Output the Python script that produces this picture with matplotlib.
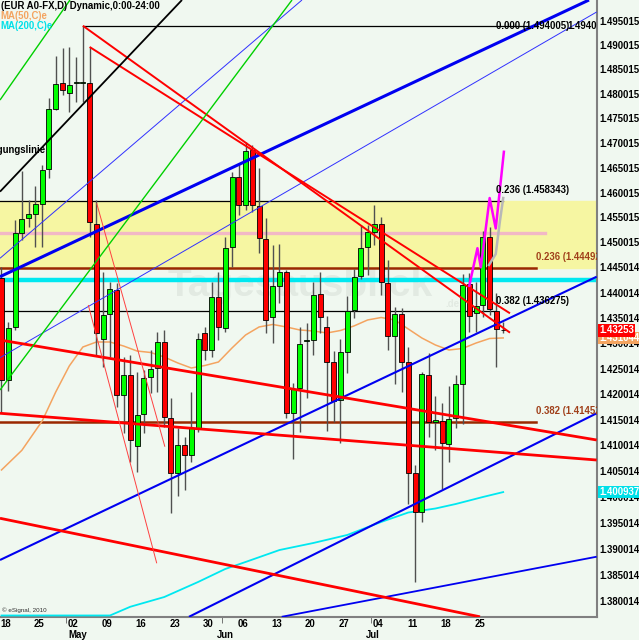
import numpy as np
import pandas as pd
import matplotlib
matplotlib.use('Agg')
import matplotlib.pyplot as plt
import matplotlib.transforms as mtrans
from matplotlib.ticker import FixedLocator, FixedFormatter, NullLocator

plt.rcParams['font.family'] = ['Liberation Sans', 'DejaVu Sans']
plt.rcParams['font.weight'] = 'bold'

# EUR/USD daily candles, 18 Apr - 29 Jul 2011 (last bar still open)
dates = pd.bdate_range('2011-04-18', periods=75)
opens = [1.44292, 1.42277, 1.43321, 1.45191, 1.45491, 1.45571, 1.45772, 1.46478, 1.47694, 1.48225,
         1.48020, 1.48215, 1.48215, 1.48225, 1.45371, 1.43083, 1.43577, 1.44053, 1.41982, 1.42375,
         1.40987, 1.41611, 1.42336, 1.42512, 1.43024, 1.41533, 1.40464, 1.41007, 1.40812, 1.41338,
         1.43202, 1.42866, 1.43914, 1.43301, 1.44910, 1.46316, 1.45752, 1.46861, 1.45732, 1.45070,
         1.43518, 1.44133, 1.44412, 1.41630, 1.42120, 1.43043, 1.43063, 1.43973, 1.43321, 1.42630,
         1.41884, 1.42827, 1.43656, 1.44332, 1.44910, 1.45211, 1.45371, 1.44193, 1.43143, 1.43577,
         1.42630, 1.40464, 1.39710, 1.42375, 1.41455, 1.41474, 1.41026, 1.41533, 1.42198, 1.44173,
         1.43597, 1.43755, 1.45110, 1.43637, 1.43261]
highs = [1.44511, 1.43419, 1.45451, 1.46437, 1.45852, 1.46134, 1.46558, 1.47918, 1.48778, 1.48942,
         1.48963, 1.48758, 1.49400, 1.48963, 1.45852, 1.44412, 1.44213, 1.44193, 1.42729, 1.42768,
         1.42434, 1.42473, 1.42866, 1.43222, 1.43261, 1.41923, 1.41338, 1.41163, 1.42041, 1.43202,
         1.43321, 1.44213, 1.44412, 1.45110, 1.46417, 1.46599, 1.47024, 1.46963, 1.46498, 1.45491,
         1.44950, 1.44970, 1.44452, 1.42218, 1.43321, 1.43399, 1.44213, 1.44412, 1.43538, 1.42846,
         1.43083, 1.43934, 1.44472, 1.45351, 1.45351, 1.45752, 1.45511, 1.44651, 1.43716, 1.43696,
         1.42925, 1.40619, 1.42434, 1.42807, 1.41963, 1.41826, 1.42159, 1.42375, 1.44372, 1.44392,
         1.44213, 1.45231, 1.45311, 1.43993, 1.43420]
lows = [1.41630, 1.42061, 1.43261, 1.45050, 1.45311, 1.44910, 1.44910, 1.46296, 1.47674, 1.47979,
        1.47633, 1.47836, 1.47836, 1.45110, 1.42768, 1.42532, 1.42729, 1.41748, 1.41241, 1.40677,
        1.40483, 1.41241, 1.42021, 1.42041, 1.41358, 1.39691, 1.40019, 1.40135, 1.40677, 1.41260,
        1.42670, 1.42729, 1.43063, 1.43222, 1.44511, 1.45551, 1.45652, 1.45612, 1.44790, 1.43202,
        1.43004, 1.43795, 1.41533, 1.40735, 1.41260, 1.41923, 1.42768, 1.43202, 1.41280, 1.41455,
        1.41046, 1.42414, 1.43498, 1.44272, 1.44352, 1.44950, 1.43953, 1.42866, 1.42198, 1.42041,
        1.39864, 1.38368, 1.39518, 1.41163, 1.40909, 1.40154, 1.40677, 1.41338, 1.41416, 1.43222,
        1.43222, 1.43518, 1.43558, 1.42532, 1.43202]
closes = [1.42277, 1.43301, 1.45191, 1.45471, 1.45571, 1.45772, 1.46457, 1.47694, 1.48205, 1.48082,
          1.48184, 1.48235, 1.48246, 1.45411, 1.43202, 1.43558, 1.44073, 1.41982, 1.42375, 1.41104,
          1.41592, 1.42316, 1.42493, 1.43024, 1.41552, 1.40464, 1.41007, 1.40812, 1.41338, 1.43083,
          1.42866, 1.43914, 1.43321, 1.44890, 1.46316, 1.45752, 1.46841, 1.45752, 1.45090, 1.43459,
          1.44133, 1.44412, 1.41630, 1.42100, 1.42984, 1.43063, 1.43954, 1.43518, 1.42630, 1.41865,
          1.42827, 1.43637, 1.44312, 1.44890, 1.45211, 1.45371, 1.44213, 1.43143, 1.43577, 1.42630,
          1.40464, 1.39710, 1.42394, 1.41455, 1.41494, 1.41046, 1.41513, 1.42198, 1.44153, 1.43538,
          1.43735, 1.45110, 1.43676, 1.43281, 1.43253]

# moving averages: (bar index, value)
ma50_idx = [0, 3, 6, 8, 10, 12, 14, 16, 18, 20, 22, 24, 26, 28, 30, 32, 34, 36, 38, 40, 42, 44,
            46, 48, 50, 52, 54, 56, 58, 60, 62, 64, 66, 68, 70, 72, 74]
ma50_val = [1.40522, 1.40903, 1.41474, 1.42041, 1.42552, 1.42925, 1.43024, 1.43024, 1.42945,
            1.42846, 1.42817, 1.42729, 1.42611, 1.42512, 1.42561, 1.42630, 1.42906, 1.43162,
            1.43321, 1.43370, 1.43321, 1.43261, 1.43241, 1.43202, 1.43251, 1.43341, 1.43459,
            1.43508, 1.43459, 1.43281, 1.43103, 1.42965, 1.42866, 1.42896, 1.43004, 1.43093, 1.43104]
ma200_idx = [0, 8, 16, 19, 24, 29, 33, 36, 41, 46, 51, 56, 60, 64, 67, 71, 74]
ma200_val = [1.3700, 1.3735, 1.37709, 1.37896, 1.38081, 1.38368, 1.38616, 1.38750, 1.38979,
             1.39114, 1.39268, 1.39518, 1.39700, 1.39777, 1.39864, 1.39999, 1.40094]

# horizontal levels
fib_black = [1.494005, 1.458343, 1.436275]
fib_black_lbl = ['0.000 (1.494005)', '0.236 (1.458343)', '0.382 (1.436275)']
fib_brown = [1.444924, 1.414524]
fib_brown_lbl = ['0.236 (1.444924)', '0.382 (1.414524)']
pink_level = 1.45197
cyan_level = 1.44252

# trend lines: (bar1, price1, bar2, price2)
blue_thick = [(-0.22, 1.44318, 86.65, 1.49931)]
blue_mid = [(-0.22, 1.38788, 87.79, 1.44318), (27.65, 1.37705, 87.79, 1.41625)]
blue_low = [(41.33, 1.37705, 87.79, 1.38851)]
blue_thin = [(-0.22, 1.42715, 87.79, 1.49684), (-0.22, 1.44685, 44.32, 1.49931)]
red_top = [(12.0, 1.49400, 75.0, 1.43208), (13.0, 1.48963, 75.0, 1.43591)]
red_chan = [(-0.22, 1.43063, 87.79, 1.41104), (-0.22, 1.41625, 87.79, 1.40715),
            (-0.22, 1.39589, 70.58, 1.37705)]
red_thin = [(14.04, 1.45786, 24.1, 1.40973), (12.8, 1.43755, 22.9, 1.38725)]
green_lines = [(-0.22, 1.47877, 10.1, 1.49931), (-0.22, 1.42080, 42.85, 1.49931)]
black_lines = [(-0.22, 1.46020, 26.62, 1.49931)]

# projection drawn at the right
magenta_idx = [69.0, 70.2, 70.7, 72.0, 72.9, 74.1]
magenta_val = [1.44139, 1.44886, 1.44505, 1.45892, 1.45281, 1.46825]
gray_idx = [71.9, 72.9, 73.5, 74.0]
gray_val = [1.44551, 1.44770, 1.45411, 1.45892]

last_price = 1.43253
ma50_last = 1.431044
ma200_last = 1.400937

yticks = [1.495015, 1.490015, 1.485015, 1.480015, 1.475015, 1.470015, 1.465015, 1.460015,
          1.455015, 1.450015, 1.445014, 1.440014, 1.435014, 1.430014, 1.425014, 1.420014,
          1.415014, 1.410014, 1.405014, 1.400014, 1.395014, 1.390014, 1.385014, 1.380014]
months = ['May', 'Jun', 'Jul']
month_x = [11.25, 33.0, 54.8]

bg = '#f0f8f0'
fig = plt.figure(figsize=(6.39, 6.40), dpi=100, facecolor=bg)
ax = fig.add_axes([0, 1 - 616.7 / 640, 596.7 / 639, 616.7 / 640], facecolor=bg)
ax.set_yscale('log')
ax.set_xlim(-0.22, 87.79)
ax.set_ylim(1.37707, 1.49931)

x = np.arange(len(dates))
o = np.array(opens)
c = np.array(closes)
h = np.array(highs)
l = np.array(lows)

# yellow zone and horizontal levels
ax.axhspan(fib_brown[0], fib_black[1], color='#f6f6a2', zorder=1)
ax.axhline(cyan_level, color='#00e8f0', lw=3.2, zorder=2)
ax.plot([-0.22, 80.2], [pink_level] * 2, color='#f2b8c6', lw=2.4, zorder=2)
ax.plot([12, 78.9], [fib_black[0]] * 2, color='black', lw=0.9, zorder=2)
for v in fib_black[1:]:
    ax.plot([-0.22, 74 if v > 1.45 else 73], [v, v], color='black', lw=0.9, zorder=2)
for v in fib_brown:
    ax.plot([-0.22, 78.9], [v, v], color='#9a2800', lw=1.8, zorder=2)

for i, (v, s) in enumerate(zip(fib_black, fib_black_lbl)):
    ax.text(72.9, v * (1.0008 if i > 0 else 1.0), s, fontsize=6.9, va='center' if i == 0 else 'bottom',
            color='black', zorder=6, clip_on=True)
ax.text(87.79, fib_black[0], '1.4940', fontsize=6.9, ha='right', va='center', zorder=6, clip_on=True)
for v, s in zip(fib_brown, fib_brown_lbl):
    ax.text(78.9, v * 1.0008, s, fontsize=6.9, color='#a0401a', va='bottom', zorder=6, clip_on=True)

# watermark
ax.text(44, 1.4414, 'Tagesausblick', fontsize=28, color='#e2eae2', ha='center', va='center', zorder=1.5)
ax.text(66.5, 1.4378, '.de', fontsize=7, color='#e2eae2', ha='center', va='center', zorder=1.5)

# moving averages
ax.plot(ma50_idx, ma50_val, color='#f4a460', lw=1.1, zorder=2.5)
ax.plot(ma200_idx, np.clip(ma200_val, 1.3773, None), color='#00e8f0', lw=1.3, zorder=2.6)

# candles
ax.vlines(x, l, h, color='#505050', lw=1.0, zorder=3)
ax.bar(x, np.abs(c - o), bottom=np.minimum(o, c), width=0.74,
       color=np.where(c >= o, '#00ff00', '#ff0000'), edgecolor='black', linewidth=0.6, zorder=3.5)

def draw(lines, **kw):
    for i1, p1, i2, p2 in lines:
        ax.plot([i1, i2], [p1, p2], solid_capstyle='butt', **kw)

draw(blue_thick, color='#0000f0', lw=2.2, zorder=4)
draw(blue_mid, color='#0000f0', lw=1.5, zorder=4)
draw(blue_low, color='#0000f0', lw=1.3, zorder=4)
draw(blue_thin, color='#3030ff', lw=0.7, zorder=4)
draw(red_top, color='#ff0000', lw=1.4, zorder=4)
draw(red_chan, color='#ff0000', lw=2.0, zorder=4)
draw(red_thin, color='#ff4040', lw=0.7, zorder=4)
draw(green_lines, color='#00d000', lw=1.0, zorder=4)
draw(black_lines, color='black', lw=1.3, zorder=4)
ax.plot(magenta_idx, magenta_val, color='#ff00ff', lw=1.8, zorder=4.5)
ax.plot(gray_idx, gray_val, color='#b8b8b8', lw=1.8, zorder=4.5)

ax.text(6.5, 1.4687, 'Steigungslinie', fontsize=6.9, ha='right', va='center', zorder=6)

# legend texts
fig.text(0.001, 1 - 6 / 640, '(EUR A0-FX,D) Dynamic,0:00-24:00', fontsize=6.9, va='center', color='black')
fig.text(0.001, 1 - 16 / 640, 'MA(50,C)e', fontsize=6.9, va='center', color='#f4a460')
fig.text(0.001, 1 - 26 / 640, 'MA(200,C)e', fontsize=6.9, va='center', color='#00e0e8')
ax.text(0.004, 0.008, '\u00a9 eSignal, 2010', transform=ax.transAxes, fontsize=4.5,
        fontweight='normal', color='#303030', zorder=6)

# axes
for s in ['top', 'left']:
    ax.spines[s].set_visible(False)
for s in ['right', 'bottom']:
    ax.spines[s].set_color('#808080')
    ax.spines[s].set_linewidth(1.5)
ax.yaxis.tick_right()
ax.yaxis.set_major_locator(FixedLocator(yticks))
ax.yaxis.set_major_formatter(FixedFormatter(['%.6f' % v for v in yticks]))
ax.yaxis.set_minor_locator(NullLocator())
ax.tick_params(axis='y', length=0, pad=2.2, labelsize=6.9)

mondays = np.where(dates.weekday == 0)[0]
ax.set_xticks(mondays + 0.55)
ax.set_xticklabels(dates[mondays].strftime('%d'))
ax.set_xticks([9.5, 32.5, 54.5], minor=True)
ax.tick_params(axis='x', which='major', length=0, pad=2.0, labelsize=6.9)
ax.tick_params(axis='x', which='minor', length=4, color='#606060')
blend = mtrans.blended_transform_factory(ax.transData, ax.transAxes)
for m, mx in zip(months, month_x):
    ax.text(mx, -0.0297, m, transform=blend, fontsize=6.9, ha='center', va='center', clip_on=False)

# price badges
for v, s, fc in [(ma200_last, '1.400937', '#00e0e8'), (ma50_last, '1.431044', '#f4a460'),
                 (last_price, '1.43253', '#ff0000')]:
    ax.text(1.004, v, s, transform=mtrans.blended_transform_factory(ax.transAxes, ax.transData),
            fontsize=6.9, color='white', ha='left', va='center', clip_on=False, zorder=10,
            bbox=dict(boxstyle='square,pad=0.12', fc=fc, ec='none'))

fig.savefig('out.png', dpi=100, facecolor=bg)
